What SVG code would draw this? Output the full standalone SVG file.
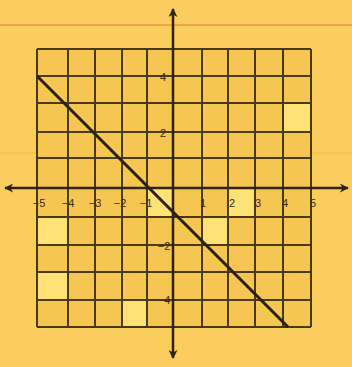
<svg xmlns="http://www.w3.org/2000/svg" width="352" height="367" viewBox="0 0 352 367">
<style>
.grid{stroke:#4a3a14;stroke-width:2;fill:none}
.axis{stroke:#2e2410;stroke-width:2.5;fill:none}
.lbl{font-family:"Liberation Sans",Arial,sans-serif;font-size:11px;fill:#3a2c10;text-anchor:middle}
.hl{fill:#FFE276}
</style>
<defs>
<marker id="ah" viewBox="0 0 10 10" refX="9" refY="5" markerWidth="10" markerHeight="9" orient="auto-start-reverse" markerUnits="userSpaceOnUse">
<path d="M0,0 L10,5 L0,10 L3,5 Z" fill="#2e2410"/>
</marker>
</defs>
<rect width="352" height="367" fill="#FACD5E"/>
<line x1="0" y1="25" x2="352" y2="25" stroke="#E39A48" stroke-width="1.5"/>
<line x1="0" y1="153" x2="352" y2="153" stroke="#E8B255" stroke-width="1" opacity="0.5"/>
<g id="plane">
<rect x="37" y="49" width="274" height="278" fill="#F6C653"/>
<rect class="hl" x="283" y="103" width="28" height="29"/>
<rect class="hl" x="37" y="217" width="31" height="28"/>
<rect class="hl" x="37" y="272" width="31" height="28"/>
<rect class="hl" x="122" y="300" width="25" height="27"/>
<rect class="hl" x="228" y="188" width="27" height="29"/>
<rect class="hl" x="202" y="217" width="26" height="28"/>
<rect class="hl" x="147" y="188" width="26" height="29"/>
<g class="grid">
<path d="M37,49V327M68,49V327M95,49V327M122,49V327M147,49V327M202,49V327M228,49V327M255,49V327M283,49V327M311,49V327"/>
<path d="M37,49H311M37,76H311M37,103H311M37,132H311M37,158H311M37,217H311M37,245H311M37,272H311M37,300H311M37,327H311"/>
</g>
</g>
<g id="axes">
<line class="axis" x1="5" y1="188" x2="348" y2="188" marker-start="url(#ah)" marker-end="url(#ah)"/>
<line class="axis" x1="173" y1="9" x2="173" y2="358" marker-start="url(#ah)" marker-end="url(#ah)"/>
</g>
<g id="line">
<line x1="37" y1="76" x2="288" y2="327" stroke="#2a2010" stroke-width="3"/>
</g>
<g id="labels">
<text class="lbl" x="39" y="207">−5</text>
<text class="lbl" x="68" y="207">−4</text>
<text class="lbl" x="95" y="207">−3</text>
<text class="lbl" x="120" y="207">−2</text>
<text class="lbl" x="146" y="207">−1</text>
<text class="lbl" x="203" y="207">1</text>
<text class="lbl" x="232" y="207">2</text>
<text class="lbl" x="258" y="207">3</text>
<text class="lbl" x="285" y="207">4</text>
<text class="lbl" x="313" y="207">5</text>
<text class="lbl" x="163" y="81">4</text>
<text class="lbl" x="163" y="137">2</text>
<text class="lbl" x="164" y="250">−2</text>
<text class="lbl" x="164" y="304">−4</text>
</g>
</svg>
